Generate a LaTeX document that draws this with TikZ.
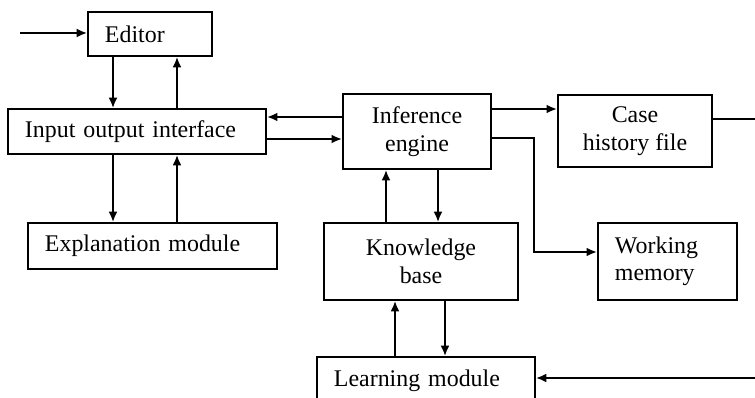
\documentclass[tikz,border=0pt]{standalone}
\usepackage{fontspec}
\setmainfont{Liberation Serif}
\usetikzlibrary{arrows.meta}

\begin{document}
\begin{tikzpicture}[x=0.025cm, y=-0.025cm,
        font=\fontsize{17}{19.5}\selectfont,
        box/.style={draw, line width=1.3pt, inner sep=0pt, align=center},
        lbox/.style={draw, line width=1.3pt, inner ysep=0pt, inner xsep=0.425cm, align=left},
        arr/.style={line width=1.3pt, -{Latex[length=2.6mm, width=2.2mm]}},
        thk/.style={arr, line width=2pt}]

                    \useasboundingbox (0,0) rectangle (755,398);

                    \node[lbox, text width=2.25cm, minimum height=1.1cm] (ed) at (150,34) {Editor};
                    \node[lbox, text width=5.6cm, minimum height=1.125cm] (io) at (137,131.5) {Input output interface};
                    \node[lbox, text width=5.375cm, minimum height=1.15cm] (ex) at (152.5,246) {Explanation module};
                    \node[box, minimum width=3.7cm, minimum height=1.875cm] (ie) at (417,131.5) {Inference\\engine};
                    \node[box, minimum width=3.85cm, minimum height=1.8cm] (ch) at (635,131) {Case\\history file};
                    \node[box, minimum width=4.85cm, minimum height=1.925cm] (kb) at (421,261.5) {Knowledge\\base};
                    \node[lbox, text width=2.625cm, minimum height=1.925cm] (wm) at (667.5,261.5) {Working\\memory};
                    \node[lbox, text width=4.6cm, minimum height=1.2cm] (lm) at (426,381) {Learning module};

                    \coordinate (a) at (113,0);
                    \coordinate (b) at (177,0);
                    \coordinate (c) at (386,0);
                    \coordinate (d) at (438,0);
                    \coordinate (e) at (395,0);
                    \coordinate (f) at (445,0);
                    \coordinate (g) at (0,117);
                    \coordinate (h) at (0,139);
                    \coordinate (k) at (0,109);
                    \coordinate (m) at (0,138);
                    \coordinate (t) at (534,252);
                    \coordinate (in1) at (20,33);
                    \coordinate (in2) at (755,378);
                    \coordinate (out1) at (755,119);

                    \foreach \u/\l/\dn/\up in {
                        ed/io/a/b,
                        io/ex/a/b,
                        ie/kb/d/c,
                        kb/lm/f/e
                    } {
                        \draw[arr] (\dn |- \u.south) -- (\dn |- \l.north);
                        \draw[arr] (\up |- \l.north) -- (\up |- \u.south);
                    };

                    \draw[arr] (in1) -- (ed.west |- in1);
                    \draw[thk] (ie.west |- g) -- (io.east |- g);
                    \draw[thk] (io.east |- h) -- (ie.west |- h);
                    \draw[arr, line width=1.6pt] (ie.east |- k) -- (ch.west |- k);
                    \draw[arr, line width=1.6pt] (ie.east |- m) -| (t) -- (wm.west |- t);
                    \draw[line width=1.3pt] (ch.east |- out1) -- (out1);
                    \draw[arr] (in2) -- (lm.east |- in2);

                \end{tikzpicture}
\end{document}
